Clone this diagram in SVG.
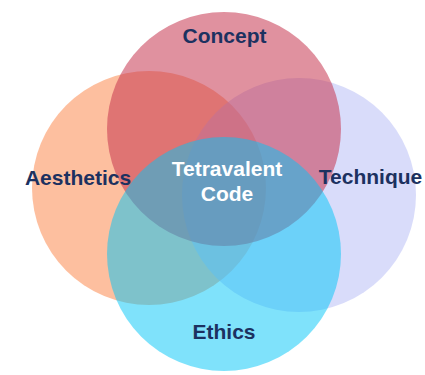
<svg xmlns="http://www.w3.org/2000/svg" width="425" height="375" viewBox="0 0 425 375">
<style>
  .lbl{font-family:"Liberation Sans",Arial,sans-serif;font-weight:bold;font-size:21px;text-anchor:middle;fill:#1C3160}
  .ctr{fill:#FFFFFF}
</style>
<rect width="425" height="375" fill="#FFFFFF"/>
<g id="aesthetics">
  <circle cx="149" cy="188" r="117" fill="#FB7F3F" fill-opacity="0.5"/>
</g>
<g id="technique">
  <circle cx="299" cy="195" r="117" fill="#B4B9F5" fill-opacity="0.5"/>
</g>
<g id="concept">
  <circle cx="224" cy="129" r="117" fill="#C6334D" fill-opacity="0.54"/>
</g>
<g id="ethics">
  <circle cx="224" cy="254" r="117" fill="#00C5F7" fill-opacity="0.5"/>
</g>
<g id="connectors"></g>
<g id="labels">
  <text class="lbl" x="224.5" y="43">Concept</text>
  <text class="lbl" x="78" y="185">Aesthetics</text>
  <text class="lbl" x="370.5" y="184">Technique</text>
  <text class="lbl" x="224" y="339">Ethics</text>
  <g id="tetravalent-code">
    <text class="lbl ctr" x="227" y="176">Tetravalent</text>
    <text class="lbl ctr" x="227" y="201">Code</text>
  </g>
</g>
</svg>
